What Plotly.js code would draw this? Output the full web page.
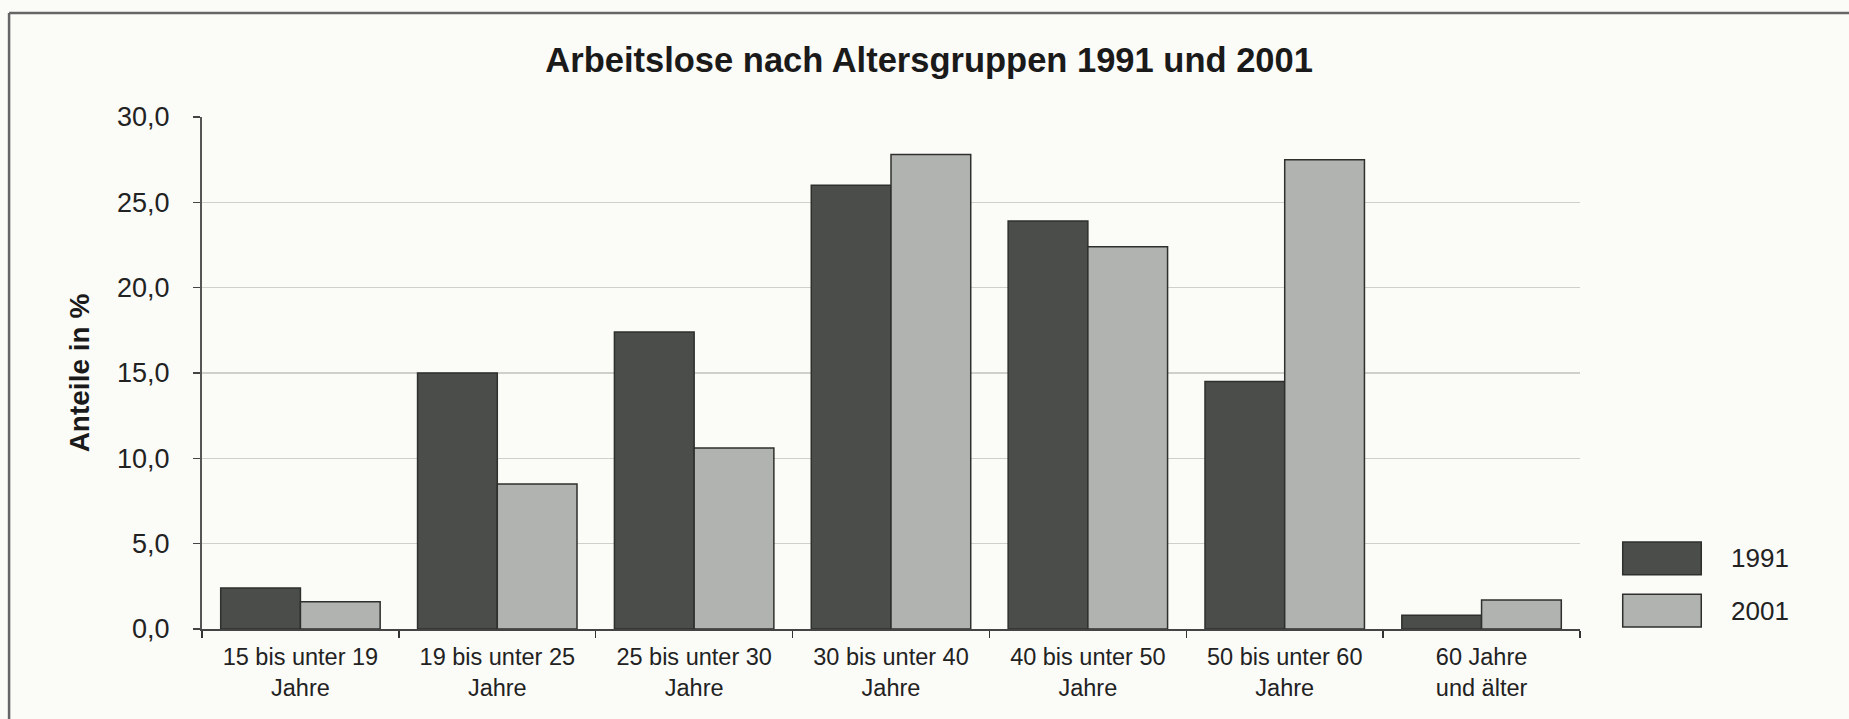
<!DOCTYPE html>
<html>
<head>
<meta charset="utf-8">
<script src="https://cdn.plot.ly/plotly-3.0.1.min.js"></script>
<style>
html,body{margin:0;padding:0;background:#fbfbf8;}
#chart{width:1849px;height:719px;}
</style>
</head>
<body>
<div id="chart"></div>
<script>
const categories = [
  "15 bis unter 19<br>Jahre",
  "19 bis unter 25<br>Jahre",
  "25 bis unter 30<br>Jahre",
  "30 bis unter 40<br>Jahre",
  "40 bis unter 50<br>Jahre",
  "50 bis unter 60<br>Jahre",
  "60 Jahre<br>und älter"
];
const values1991 = [2.4, 15.0, 17.4, 26.0, 23.9, 14.5, 0.8];
const values2001 = [1.6, 8.5, 10.6, 27.8, 22.4, 27.5, 1.7];
const seriesNames = ["1991", "2001"];
const seriesColors = ["#4a4d49", "#b1b3b0"];
const yTickValues = [0, 5, 10, 15, 20, 25, 30];
const yTickLabels = ["0,0", "5,0", "10,0", "15,0", "20,0", "25,0", "30,0"];

const font = "Liberation Sans, Arial, Helvetica, sans-serif";
const seriesValues = [values1991, values2001];

const traces = seriesNames.map((name, i) => ({
  type: "bar",
  name: name,
  x: categories,
  y: seriesValues[i],
  marker: {color: seriesColors[i], line: {color: "#2e302d", width: 1.5}},
  showlegend: false,
  hoverinfo: "x+y+name"
}));

// page frame (top and left border)
const shapes = [
  {type: "line", xref: "paper", yref: "paper", x0: -0.14, x1: 1.2, y0: 1.203, y1: 1.203,
   line: {color: "#666", width: 2.5}},
  {type: "line", xref: "paper", yref: "paper", x0: -0.14, x1: -0.14, y0: 1.203, y1: -0.2,
   line: {color: "#666", width: 2.5}}
];
// custom legend (large boxes like the reference)
const annotations = [];
seriesNames.forEach((name, i) => {
  const top = 0.17 - i * 0.102;
  shapes.push({type: "rect", xref: "paper", yref: "paper",
    x0: 1.031, x1: 1.088, y0: top - 0.064, y1: top,
    fillcolor: seriesColors[i], line: {color: "#2e302d", width: 1.5}});
  annotations.push({xref: "paper", yref: "paper", x: 1.108, y: top - 0.032,
    xanchor: "left", yanchor: "middle", text: name, showarrow: false,
    font: {family: font, size: 26, color: "#222"}});
});

const layout = {
  width: 1849, height: 719,
  paper_bgcolor: "#fbfbf8", plot_bgcolor: "#fbfbf8",
  margin: {l: 202, r: 269, t: 117, b: 90},
  title: {text: "<b>Arbeitslose nach Altersgruppen 1991 und 2001</b>",
    x: 0.5025, xanchor: "center", y: 0.917, yanchor: "middle",
    font: {family: font, size: 34.5, color: "#1a1a1a"}},
  barmode: "group", bargap: 0.19, bargroupgap: 0,
  xaxis: {
    tickmode: "array", tickvals: categories, ticktext: categories,
    tickson: "boundaries", ticks: "outside", ticklen: 7, tickcolor: "#333", tickwidth: 1.5,
    ticklabelstandoff: 6,
    showline: true, linecolor: "#444", linewidth: 2,
    showgrid: false, zeroline: false,
    tickfont: {family: font, size: 23.5, color: "#222"}
  },
  yaxis: {
    range: [0, 30], tickmode: "array", tickvals: yTickValues, ticktext: yTickLabels,
    ticks: "outside", ticklen: 7, tickcolor: "#444", tickwidth: 1.5,
    ticklabelstandoff: 18,
    showline: true, linecolor: "#555", linewidth: 2,
    showgrid: true, gridcolor: "#cfcfcc", gridwidth: 1.5, zeroline: false,
    tickfont: {family: font, size: 27, color: "#222"},
    title: {text: "<b>Anteile in %</b>", standoff: 19,
      font: {family: font, size: 28, color: "#1a1a1a"}}
  },
  shapes: shapes,
  annotations: annotations
};

Plotly.newPlot("chart", traces, layout, {displayModeBar: false, staticPlot: true});
</script>
</body>
</html>
